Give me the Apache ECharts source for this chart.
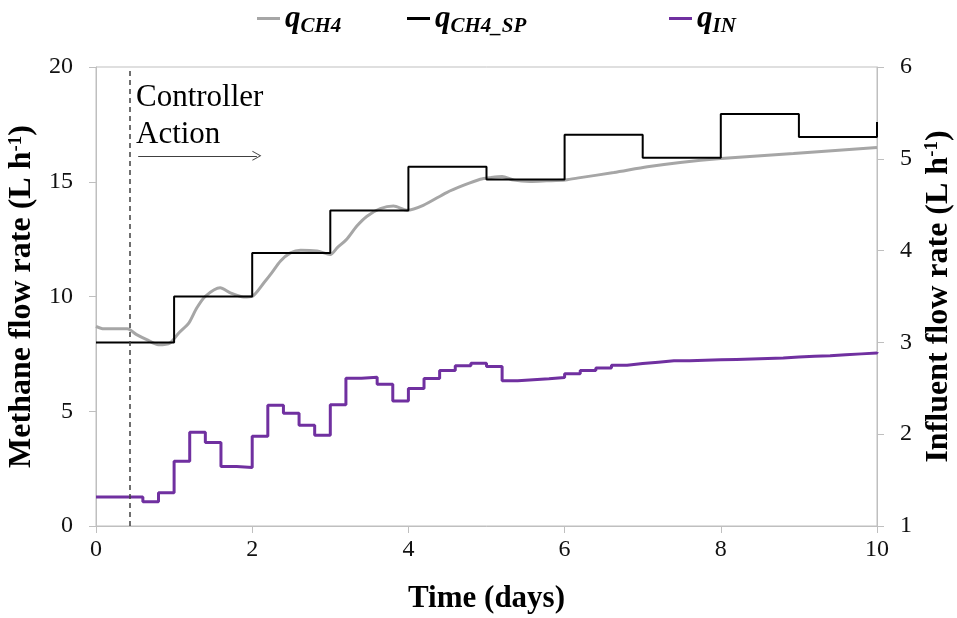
<!DOCTYPE html>
<html>
<head>
<meta charset="utf-8">
<script src="https://cdn.jsdelivr.net/npm/echarts@6/dist/echarts.min.js"></script>
<style>
  html, body { margin: 0; padding: 0; background: #fff; }
  #chart { width: 957px; height: 618px; }
</style>
</head>
<body>
<div id="chart"></div>
<script>
// methane flow rate, measured (left axis)
const qch4Days = [0, 0.1, 0.4, 0.52, 0.65, 0.8, 0.95, 1.06, 1.19, 1.29, 1.4, 1.59, 1.72, 1.89, 2.0,
  2.15, 2.25, 2.36, 2.49, 2.62, 2.83, 3.0, 3.09, 3.21, 3.34, 3.47, 3.64, 3.81, 3.98, 4.19, 4.49,
  4.71, 4.92, 5.05, 5.2, 5.35, 5.56, 5.77, 6.01, 6.2, 6.63, 7.06, 7.48, 8.0, 8.93, 10.0]
const qch4Values = [8.7, 8.59, 8.59, 8.34, 8.12, 7.9, 7.98, 8.41, 8.85, 9.5, 10.01, 10.38, 10.16, 9.98, 10.01,
  10.6, 11.03, 11.54, 11.9, 12.02, 11.98, 11.83, 12.13, 12.49, 13.07, 13.5, 13.83, 13.94, 13.76, 13.97, 14.53,
  14.85, 15.11, 15.18, 15.23, 15.07, 15.01, 15.04, 15.08, 15.18, 15.4, 15.65, 15.84, 16.01, 16.23, 16.49]

// methane set point (left axis), one step per day
const spDays = [0, 1, 2, 3, 4, 5, 6, 7, 8, 9, 10]
const spValues = [8, 10, 11.9, 13.75, 15.65, 15.1, 17.05, 16.05, 17.95, 16.95, 17.6]

// influent flow rate (right axis)
const qinDays = [0, 0.6, 0.8, 1.0, 1.2, 1.4, 1.6, 1.8, 2.0, 2.2, 2.4, 2.6, 2.8, 3.0, 3.2, 3.4, 3.6, 3.8,
  4.0, 4.2, 4.4, 4.6, 4.8, 5.0, 5.2, 5.4, 5.6, 5.8, 6.0, 6.2, 6.4, 6.6, 6.8, 7.0, 7.2, 7.4, 7.6, 7.8,
  8.0, 8.2, 8.4, 8.6, 8.8, 9.0, 9.2, 9.4, 9.6, 9.8, 10.0]
const qinValues = [1.316, 1.265, 1.363, 1.705, 2.02, 1.91, 1.647, 1.636, 1.978, 2.316, 2.229, 2.098, 1.989,
  2.32, 2.61, 2.62, 2.545, 2.363, 2.497, 2.606, 2.694, 2.745, 2.774, 2.737, 2.581, 2.592, 2.603, 2.617,
  2.658, 2.694, 2.72, 2.752, 2.77, 2.785, 2.8, 2.8, 2.805, 2.81, 2.815, 2.82, 2.825, 2.83, 2.84, 2.85,
  2.855, 2.865, 2.875, 2.885, 2.895]

const xTicks = [0, 2, 4, 6, 8, 10]
const leftTicks = [0, 5, 10, 15, 20]
const rightTicks = [1, 2, 3, 4, 5, 6]

const controllerStart = 0.43
const arrowFrom = [0.54, 16.13]
const arrowTo = [2.06, 16.13]

const serif = '"Liberation Serif", "Times New Roman", serif'
const axisGray = '#BFBFBF'

const pairs = (xs, ys) => xs.map((x, i) => [x, ys[i]])

const legendRich = {
  q: { fontFamily: serif, fontSize: 31, fontWeight: 'bold', fontStyle: 'italic', color: '#000', verticalAlign: 'bottom' },
  s: { fontFamily: serif, fontSize: 21, fontWeight: 'bold', fontStyle: 'italic', color: '#000', verticalAlign: 'bottom', padding: [0, 0, -3, 0] }
}
const legendLabel = {
  'q_CH4': '{q|q}{s|CH4}',
  'q_CH4_SP': '{q|q}{s|CH4_SP}',
  'q_IN': '{q|q}{s|IN}'
}
function makeLegend(name, left) {
  return {
    data: [name],
    left: left,
    top: -2,
    icon: 'rect',
    itemWidth: 23,
    itemHeight: 3,
    formatter: n => legendLabel[n],
    textStyle: { rich: legendRich }
  }
}

const nameRich = {
  n: { fontFamily: serif, fontSize: 32, fontWeight: 'bold', color: '#000' },
  sup: { fontFamily: serif, fontSize: 19, fontWeight: 'bold', color: '#000', verticalAlign: 'top' }
}

const chart = echarts.init(document.getElementById('chart'))
chart.setOption({
  animation: false,
  backgroundColor: '#fff',
  legend: [
    makeLegend('q_CH4', 252),
    makeLegend('q_CH4_SP', 402),
    makeLegend('q_IN', 664)
  ],
  grid: {
    left: 96, right: 80, top: 67, bottom: 92,
    containLabel: false,
    outerBoundsMode: 'none',
    show: true, borderColor: axisGray, borderWidth: 1, backgroundColor: 'transparent'
  },
  xAxis: {
    type: 'value',
    min: xTicks[0], max: xTicks[xTicks.length - 1], interval: 2,
    name: 'Time (days)',
    nameLocation: 'middle',
    nameGap: 57,
    nameTextStyle: { fontFamily: serif, fontSize: 31, fontWeight: 'bold', color: '#000' },
    axisLine: { lineStyle: { color: axisGray } },
    axisTick: { show: true, length: 7, lineStyle: { color: axisGray } },
    axisLabel: { fontFamily: serif, fontSize: 24, color: '#111', margin: 12 },
    splitLine: { show: false }
  },
  yAxis: [
    {
      type: 'value',
      min: leftTicks[0], max: leftTicks[leftTicks.length - 1], interval: 5,
      name: '{n|Methane flow rate (L h}{sup|-1}{n|)}',
      nameLocation: 'middle',
      nameGap: 48,
      nameTextStyle: { rich: nameRich },
      axisLine: { show: true, lineStyle: { color: axisGray } },
      axisTick: { show: true, length: 7, lineStyle: { color: axisGray } },
      axisLabel: { fontFamily: serif, fontSize: 24, color: '#111', margin: 23 },
      splitLine: { show: false }
    },
    {
      type: 'value',
      position: 'right',
      min: rightTicks[0], max: rightTicks[rightTicks.length - 1], interval: 1,
      name: '{n|Influent flow rate (L h}{sup|-1}{n|)}',
      nameLocation: 'middle',
      nameGap: 46,
      nameTextStyle: { rich: nameRich },
      axisLine: { show: true, lineStyle: { color: axisGray } },
      axisTick: { show: true, length: 7, lineStyle: { color: axisGray } },
      axisLabel: { fontFamily: serif, fontSize: 24, color: '#111', margin: 23 },
      splitLine: { show: false }
    }
  ],
  series: [
    {
      name: 'q_CH4',
      type: 'line',
      yAxisIndex: 0,
      data: pairs(qch4Days, qch4Values),
      showSymbol: false,
      smooth: 0.25,
      color: '#A6A6A6',
      lineStyle: { width: 3, color: '#A6A6A6' },
      z: 2
    },
    {
      name: 'q_CH4_SP',
      type: 'line',
      yAxisIndex: 0,
      data: pairs(spDays, spValues),
      step: 'end',
      showSymbol: false,
      color: '#000',
      lineStyle: { width: 2, color: '#000' },
      z: 3
    },
    {
      name: 'q_IN',
      type: 'line',
      yAxisIndex: 1,
      data: pairs(qinDays, qinValues),
      step: 'end',
      showSymbol: false,
      color: '#7030A0',
      lineStyle: { width: 3, color: '#7030A0' },
      z: 3
    },
    {
      // annotations: controller start and arrow
      name: 'annotation',
      type: 'line',
      yAxisIndex: 0,
      data: [],
      markLine: {
        silent: true,
        animation: false,
        symbol: ['none', 'none'],
        label: { show: false },
        data: [
          {
            xAxis: controllerStart,
            lineStyle: { color: '#404040', width: 1.5, type: [5, 4] }
          },
          [
            { coord: arrowFrom, symbol: 'none', lineStyle: { color: '#404040', width: 1.2, type: 'solid' } },
            { coord: arrowTo, symbol: 'path://M0,10 L5,0 L10,10 L9,10 L5,2 L1,10 Z', symbolSize: [10, 9] }
          ]
        ]
      },
      z: 4
    }
  ],
  graphic: [
    {
      type: 'text',
      left: 136,
      top: 79,
      style: {
        text: 'Controller\nAction',
        font: '31px ' + serif,
        lineHeight: 37,
        fill: '#000'
      }
    }
  ]
})
</script>
</body>
</html>
